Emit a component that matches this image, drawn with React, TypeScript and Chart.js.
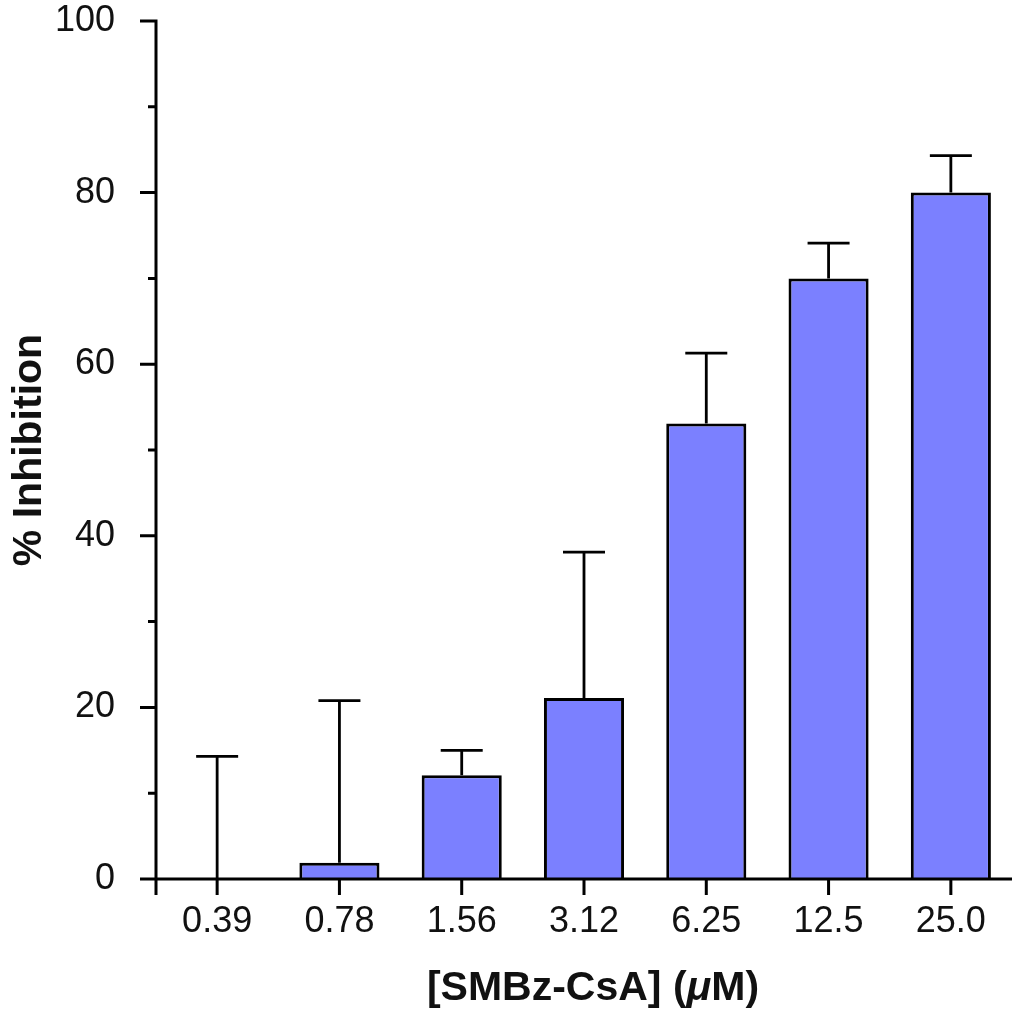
import React, { useEffect, useRef } from 'react';
import Chart from 'chart.js/auto';

const concentrations = ['0.39', '0.78', '1.56', '3.12', '6.25', '12.5', '25.0'];
const inhibition = [0, 1.9, 12.1, 21.1, 53.1, 70.0, 80.0];
const errorUp = [14.3, 18.9, 2.9, 17.0, 8.2, 4.1, 4.3];
const majorTicks = [0, 20, 40, 60, 80, 100];
const minorTicks = [10, 30, 50, 70, 90];

const FONT = "'Liberation Sans', Arial, Helvetica, sans-serif";

// draws upper error bars with a cap
const errorBarPlugin = {
  id: 'errorBars',
  afterDatasetsDraw(chart: any) {
    const { ctx, scales } = chart;
    const xs = scales.x;
    const ys = scales.y;
    ctx.save();
    ctx.strokeStyle = '#000';
    ctx.lineWidth = 2.8;
    inhibition.forEach((v, i) => {
      const x = xs.getPixelForValue(i);
      const y0 = ys.getPixelForValue(v);
      const y1 = ys.getPixelForValue(v + errorUp[i]);
      ctx.beginPath();
      ctx.moveTo(x, y0);
      ctx.lineTo(x, y1);
      ctx.moveTo(x - 21, y1);
      ctx.lineTo(x + 21, y1);
      ctx.stroke();
    });
    ctx.restore();
  },
};

// axis lines, outward ticks, minor ticks and the x title with italic mu
const axesPlugin = {
  id: 'axesDraw',
  afterDraw(chart: any) {
    const { ctx, scales, chartArea } = chart;
    const xs = scales.x;
    const ys = scales.y;
    const left = chartArea.left;
    const base = ys.getPixelForValue(0);
    const top = ys.getPixelForValue(100);
    ctx.save();
    ctx.strokeStyle = '#000';
    ctx.lineWidth = 3;
    ctx.lineCap = 'butt';
    ctx.beginPath();
    ctx.moveTo(left, top - 1.5);
    ctx.lineTo(left, base + 16);
    ctx.moveTo(left - 16, base);
    ctx.lineTo(chartArea.right, base);
    majorTicks.forEach((t) => {
      const y = ys.getPixelForValue(t);
      ctx.moveTo(left - 16, y);
      ctx.lineTo(left, y);
    });
    minorTicks.forEach((t) => {
      const y = ys.getPixelForValue(t);
      ctx.moveTo(left - 8, y);
      ctx.lineTo(left, y);
    });
    concentrations.forEach((_, i) => {
      const x = xs.getPixelForValue(i);
      ctx.moveTo(x, base);
      ctx.lineTo(x, base + 16);
    });
    ctx.stroke();

    // x axis title
    const parts = [
      { text: '[SMBz-CsA] (', font: `bold 41px ${FONT}` },
      { text: 'μ', font: `italic bold 41px ${FONT}` },
      { text: 'M)', font: `bold 41px ${FONT}` },
    ];
    let total = 0;
    parts.forEach((p) => {
      ctx.font = p.font;
      total += ctx.measureText(p.text).width;
    });
    let x = (chartArea.left + chartArea.right) / 2 + 9 - total / 2;
    ctx.fillStyle = '#111';
    ctx.textBaseline = 'alphabetic';
    ctx.textAlign = 'left';
    parts.forEach((p) => {
      ctx.font = p.font;
      ctx.fillText(p.text, x, 1000);
      x += ctx.measureText(p.text).width;
    });
    ctx.restore();
  },
};

const App = () => {
  const chartRef = useRef<HTMLCanvasElement>(null);
  const chartInstance = useRef<Chart | null>(null);

  useEffect(() => {
    if (chartRef.current) {
      if (chartInstance.current) {
        chartInstance.current.destroy();
      }
      const ctx = chartRef.current.getContext('2d');
      if (ctx) {
        chartInstance.current = new Chart(ctx, {
          type: 'bar',
          data: {
            labels: concentrations,
            datasets: [
              {
                label: '% Inhibition',
                data: inhibition,
                backgroundColor: '#7b80ff',
                borderColor: '#000',
                borderWidth: 3,
                borderSkipped: 'bottom',
                barPercentage: 0.655,
                categoryPercentage: 1,
              },
            ],
          },
          options: {
            animation: false,
            responsive: true,
            maintainAspectRatio: false,
            devicePixelRatio: 1,
            layout: { padding: { top: 21, right: 12, left: 0, bottom: 0 } },
            plugins: {
              legend: { display: false },
              tooltip: { enabled: false },
            },
            scales: {
              x: {
                grid: { display: false, drawTicks: false },
                border: { display: false },
                ticks: {
                  padding: 21,
                  color: '#111',
                  font: { family: FONT, size: 36 },
                  maxRotation: 0,
                },
                afterFit: (scale: any) => {
                  scale.height = 142;
                  scale.paddingLeft = 0;
                  scale.paddingRight = 0;
                },
              },
              y: {
                min: 0,
                max: 100,
                grid: { display: false, drawTicks: false },
                border: { display: false },
                ticks: {
                  stepSize: 20,
                  padding: 41,
                  color: '#111',
                  font: { family: FONT, size: 36 },
                },
                title: {
                  display: true,
                  text: '% Inhibition',
                  color: '#111',
                  font: { family: FONT, size: 41, weight: 'bold' },
                  padding: { top: 5, bottom: 0 },
                },
                afterFit: (scale: any) => {
                  scale.width = 156;
                  scale.paddingTop = 0;
                  scale.paddingBottom = 0;
                },
              },
            },
          },
          plugins: [errorBarPlugin, axesPlugin],
        });
      }
    }
    return () => {
      if (chartInstance.current) {
        chartInstance.current.destroy();
        chartInstance.current = null;
      }
    };
  }, []);

  return (
    <div style={{ position: 'absolute', left: 0, top: 0, width: 1024, height: 1021, background: '#fff' }}>
      <canvas ref={chartRef}></canvas>
    </div>
  );
};

export default App;
